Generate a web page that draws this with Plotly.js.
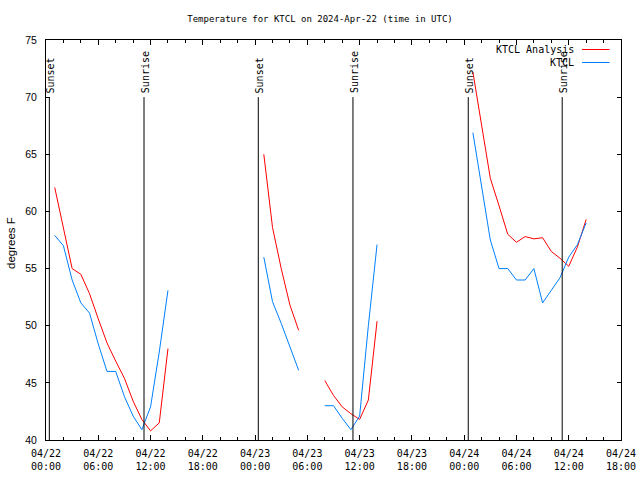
<!DOCTYPE html>
<html>
<head>
<meta charset="utf-8">
<script src="https://cdn.plot.ly/plotly-3.0.1.min.js"></script>
<style>html,body{margin:0;padding:0;background:#fff;}#chart{width:640px;height:480px;}</style>
</head>
<body>
<div id="chart"></div>
<script>
// Observation / analysis times (UTC). A null value breaks the line between segments.
const times = [
  "2024-04-22 01:00","2024-04-22 02:00","2024-04-22 03:00","2024-04-22 04:00","2024-04-22 05:00",
  "2024-04-22 06:00","2024-04-22 07:00","2024-04-22 08:00","2024-04-22 09:00","2024-04-22 10:00",
  "2024-04-22 11:00","2024-04-22 12:00","2024-04-22 13:00","2024-04-22 14:00",
  "2024-04-22 18:00",
  "2024-04-23 01:00","2024-04-23 02:00","2024-04-23 03:00","2024-04-23 04:00","2024-04-23 05:00",
  "2024-04-23 06:30",
  "2024-04-23 08:00","2024-04-23 09:00","2024-04-23 10:00","2024-04-23 11:00","2024-04-23 12:00",
  "2024-04-23 13:00","2024-04-23 14:00",
  "2024-04-23 18:00",
  "2024-04-24 01:00","2024-04-24 02:00","2024-04-24 03:00","2024-04-24 04:00","2024-04-24 05:00",
  "2024-04-24 06:00","2024-04-24 07:00","2024-04-24 08:00","2024-04-24 09:00","2024-04-24 10:00",
  "2024-04-24 11:00","2024-04-24 12:00","2024-04-24 13:00","2024-04-24 14:00"
];
const analysisTemps = [
  62.1, 58.4, 55.0, 54.5, 52.8, 50.6, 48.5, 46.9, 45.4, 43.4, 41.8, 40.8, 41.5, 48.0,
  null,
  65.0, 58.6, 55.0, 51.8, 49.6,
  null,
  45.2, 43.9, 42.9, 42.3, 41.8, 43.5, 50.4,
  null,
  72.2, 67.4, 62.9, 60.5, 58.0, 57.3, 57.8, 57.6, 57.7, 56.5, 55.9, 55.2, 56.9, 59.3
];
const obsTemps = [
  57.9, 57.0, 54.0, 52.0, 51.1, 48.4, 46.0, 46.0, 43.8, 42.1, 40.9, 42.9, 47.7, 53.1,
  null,
  56.0, 52.1, 50.2, 48.2, 46.1,
  null,
  43.0, 43.0, 41.9, 40.9, 42.1, 50.0, 57.1,
  null,
  66.9, 62.2, 57.5, 55.0, 55.0, 54.0, 54.0, 55.0, 52.0, 53.1, 54.2, 56.0, 57.1, 59.0
];
const seriesNames = ["KTCL Analysis", "KTCL"];
const seriesColors = ["#ff0000", "#0080ff"];

// Sun events
const sunEventTimes = ["2024-04-22 00:23","2024-04-22 11:15","2024-04-23 00:22","2024-04-23 11:14","2024-04-24 00:28","2024-04-24 11:15"];
const sunEventLabels = ["Sunset","Sunrise","Sunset","Sunrise","Sunset","Sunrise"];

// Axis ticks
const xTickVals = ["2024-04-22 00:00","2024-04-22 06:00","2024-04-22 12:00","2024-04-22 18:00",
  "2024-04-23 00:00","2024-04-23 06:00","2024-04-23 12:00","2024-04-23 18:00",
  "2024-04-24 00:00","2024-04-24 06:00","2024-04-24 12:00","2024-04-24 18:00"];
const xTickText = ["04/22<br>00:00","04/22<br>06:00","04/22<br>12:00","04/22<br>18:00",
  "04/23<br>00:00","04/23<br>06:00","04/23<br>12:00","04/23<br>18:00",
  "04/24<br>00:00","04/24<br>06:00","04/24<br>12:00","04/24<br>18:00"];

const mono = "DejaVu Sans Mono, monospace";
const sans = "Liberation Sans, Arial, sans-serif";

const traces = [
  {x: times, y: analysisTemps, name: seriesNames[0], type: "scatter", mode: "lines",
   line: {color: seriesColors[0], width: 1}, connectgaps: false},
  {x: times, y: obsTemps, name: seriesNames[1], type: "scatter", mode: "lines",
   line: {color: seriesColors[1], width: 1}, connectgaps: false}
];

const shapes = [];
const annotations = [];
sunEventTimes.forEach((t, i) => {
  shapes.push({type: "line", xref: "x", yref: "y", x0: t, x1: t, y0: 40, y1: 70,
    line: {color: "#000", width: 1}});
  annotations.push({x: t, y: 70, xref: "x", yref: "y", text: sunEventLabels[i], textangle: -90,
    showarrow: false, xanchor: "center", yanchor: "bottom", xshift: 1, yshift: 2,
    font: {family: mono, size: 10, color: "#000"}});
});

// Legend (gnuplot style: text right-justified, sample line on the right)
const L = 46, R = 621, T = 40, B = 440;
const px = v => (v - L) / (R - L);
const py = v => (B - v) / (B - T);
const legendY = [49.5, 62.5];
seriesNames.forEach((n, i) => {
  annotations.push({xref: "paper", yref: "paper", x: px(576), y: py(legendY[i]), text: n,
    showarrow: false, xanchor: "right", yanchor: "middle",
    font: {family: mono, size: 10, color: "#000"}});
  shapes.push({type: "line", xref: "paper", yref: "paper", x0: px(582), x1: px(609.5),
    y0: py(legendY[i]), y1: py(legendY[i]), line: {color: seriesColors[i], width: 1}});
});

// y-axis label
annotations.push({xref: "paper", yref: "paper", x: px(11), y: py(243), text: "degrees F",
  textangle: -90, showarrow: false, xanchor: "center", yanchor: "middle",
  font: {family: sans, size: 11.5, color: "#000"}});

const layout = {
  width: 640, height: 480,
  margin: {l: L, r: 640 - R, t: T, b: 480 - B, pad: 0},
  paper_bgcolor: "#fff", plot_bgcolor: "#fff",
  showlegend: false,
  title: {text: "Temperature for KTCL on 2024-Apr-22 (time in UTC)", x: 0.5, xref: "container",
    y: 1 - 19 / 480, yref: "container", yanchor: "middle", xanchor: "center",
    font: {family: mono, size: 9, color: "#000"}},
  xaxis: {type: "date", range: ["2024-04-22 00:00", "2024-04-24 18:00"],
    tickmode: "array", tickvals: xTickVals, ticktext: xTickText,
    ticks: "inside", ticklen: 5, tickwidth: 1, tickcolor: "#000",
    minor: {ticks: "inside", ticklen: 3, dtick: 7200000, tick0: "2024-04-22 00:00", tickcolor: "#000", showgrid: false},
    showline: true, linecolor: "#000", linewidth: 1, mirror: "ticks",
    showgrid: false, zeroline: false, ticklabelstandoff: 4,
    tickfont: {family: mono, size: 10, color: "#000"}},
  yaxis: {range: [40, 75], dtick: 5, tick0: 40,
    ticks: "inside", ticklen: 4, tickwidth: 1, tickcolor: "#000",
    showline: true, linecolor: "#000", linewidth: 1, mirror: "ticks",
    showgrid: false, zeroline: false, ticklabelstandoff: 6,
    tickfont: {family: sans, size: 10.5, color: "#000"}},
  shapes: shapes,
  annotations: annotations
};

Plotly.newPlot("chart", traces, layout, {staticPlot: true, displayModeBar: false});
</script>
</body>
</html>
